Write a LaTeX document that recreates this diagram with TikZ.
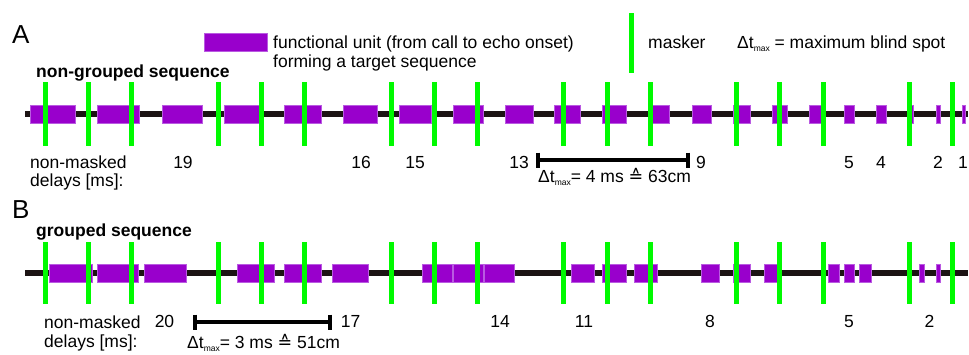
\documentclass[tikz,border=0pt]{standalone}
\usepackage{fontspec}
\setmainfont{Liberation Sans}
\newfontfamily\dvs{DejaVu Sans}
\definecolor{unitpurple}{RGB}{153,0,204}
\definecolor{unitedge}{RGB}{185,90,225}
\definecolor{maskgreen}{RGB}{0,250,0}
\definecolor{linedark}{RGB}{28,20,20}
\newcommand{\dtsub}{Δt\raisebox{-3pt}{\fontsize{8.5}{9}\selectfont max}}
\tikzset{
  unitbox/.style={fill=unitpurple, draw=unitedge, line width=0.5pt},
  maskline/.style={draw=maskgreen, line width=5pt},
  axisline/.style={draw=linedark, line width=5.5pt},
  lbl/.style={font=\fontsize{17.5}{18.5}\selectfont, inner sep=0pt},
  boldlbl/.style={font=\fontsize{17.5}{18.5}\selectfont\bfseries, inner sep=0pt},
  biglbl/.style={font=\fontsize{26}{28}\selectfont, inner sep=0pt},
  bracketline/.style={draw=black, line width=3.5pt}
}
\begin{document}
\begin{tikzpicture}[x=1pt,y=-1pt]
\useasboundingbox[fill=white] (0,0) rectangle (969,354);

% panel letters
\node[biglbl, anchor=base west] (A) at (12,43) {A};
\node[biglbl, anchor=base west] (B) at (12,218) {B};

% legend
\fill[unitbox] (204,33) rectangle (267,51);
\node[lbl, anchor=base west] (leg1) at (273,48.5) {functional unit (from call to echo onset)};
\node[lbl, anchor=base west] (leg2) at (273,67) {forming a target sequence};
\draw[maskline] (631,13) -- (631,73);
\node[lbl, anchor=base west] (legm) at (648,48) {masker};
\node[lbl, anchor=base west] (legd) at (737,48) {\dtsub{} = maximum blind spot};

% ---------- Row A ----------
\node[boldlbl, anchor=base west] (titA) at (36,77) {non-grouped sequence};
\draw[axisline] (25,114) -- (968,114);
\foreach \a/\b in {30/75,97/139,162/202,224/260,284/321,343/377,399/431,453/483,505/533,554/580,602/626,648/669,692/711,733/750,772/787,809/822,844/854,876/886,907/913,936/940,962/965}
  \fill[unitbox] (\a,105) rectangle (\b,123);
\foreach \x in {45.5,88.7,131.9,218.3,261.5,304.7,391.1,434.3,477.5,563.9,607.1,650.3,736.7,779.9,823.1,909.5,952.7}
  \draw[maskline] (\x,82) -- (\x,146);

\node[lbl, anchor=base west] (nmA1) at (30,168) {non-masked};
\node[lbl, anchor=base west] (nmA2) at (30,186.5) {delays [ms]:};
\foreach \x/\t in {183/19,361/16,415/15,519/13,701/9,849/5,881/4,938/2,963/1}
  \node[lbl, anchor=base] at (\x,168) {\t};
\draw[bracketline] (538,160) -- (688,160);
\draw[bracketline] (538,152.5) -- (538,168);
\draw[bracketline] (688,152.5) -- (688,168);
\node[lbl, anchor=base west] (dtA) at (538,182) {\dtsub= 4 ms {\dvs ≙} 63cm};

% ---------- Row B ----------
\node[boldlbl, anchor=base west] (titB) at (36,236) {grouped sequence};
\draw[axisline] (25,273) -- (968,273);
\foreach \a/\b in {49/92,97/138,144/186,237/274,284/321,332/368,422/452,453/483,484/514,571/594,602/626,634/657,701/719,733/750,764/778,828/839,844/854,859/871,919/924,936/940}
  \fill[unitbox] (\a,264) rectangle (\b,282);
\foreach \x in {45.5,88.7,131.9,218.3,261.5,304.7,391.1,434.3,477.5,563.9,607.1,650.3,736.7,779.9,823.1,909.5,952.7}
  \draw[maskline] (\x,242) -- (\x,304);

\node[lbl, anchor=base west] (nmB1) at (44,328) {non-masked};
\node[lbl, anchor=base west] (nmB2) at (44,347) {delays [ms]:};
\foreach \x/\t in {164.5/20,350.5/17,500/14,584/11,710/8,849/5,929.5/2}
  \node[lbl, anchor=base] at (\x,327.5) {\t};
\draw[bracketline] (195,322) -- (330,322);
\draw[bracketline] (195,314.5) -- (195,329.5);
\draw[bracketline] (330,314.5) -- (330,329.5);
\node[lbl, anchor=base west] (dtB) at (187,348) {\dtsub= 3 ms {\dvs ≙} 51cm};
\end{tikzpicture}
\end{document}
